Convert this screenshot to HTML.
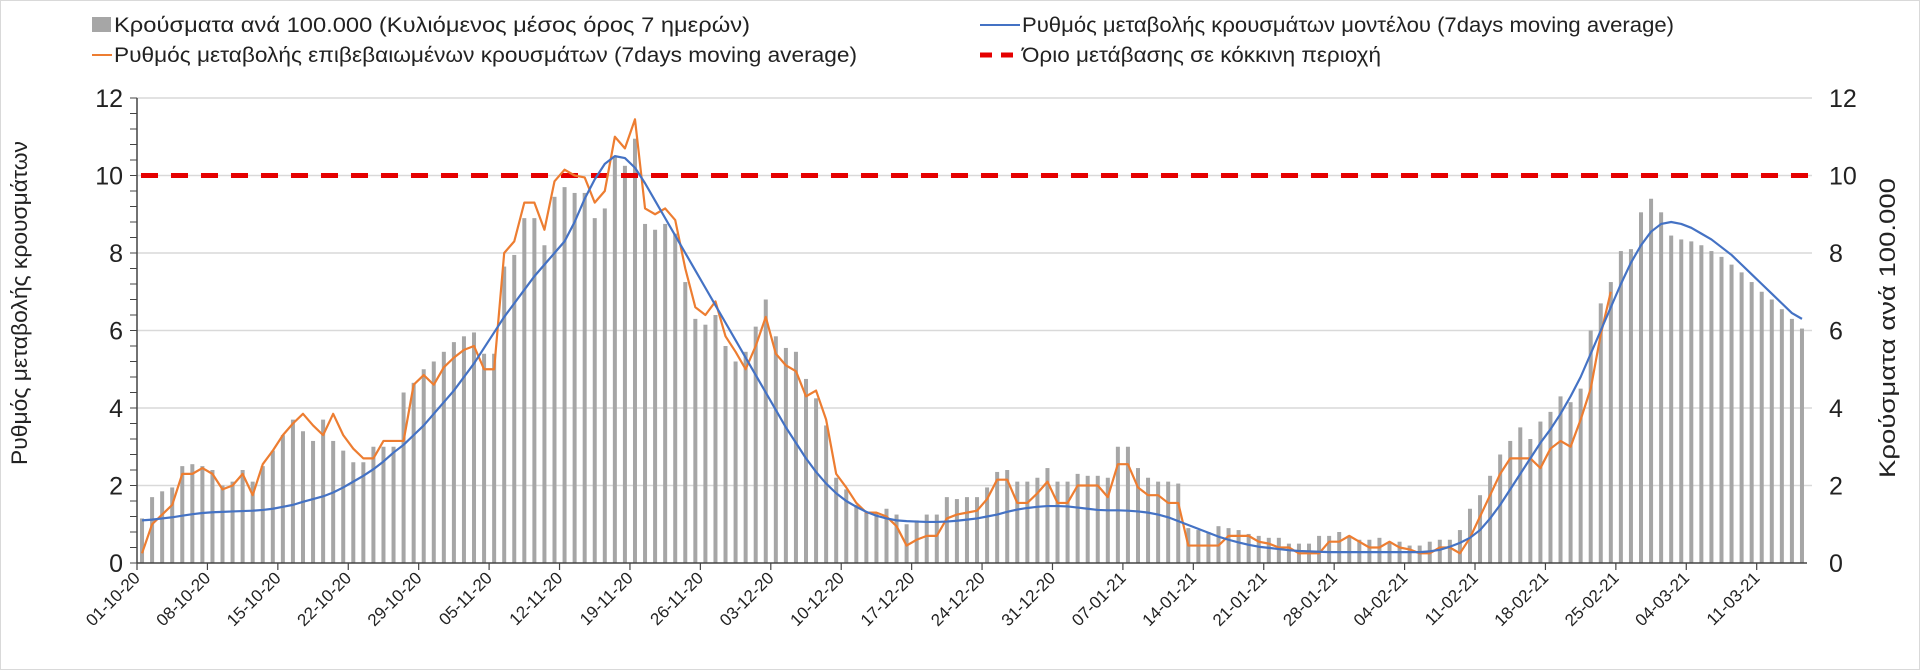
<!DOCTYPE html>
<html><head><meta charset="utf-8"><style>
html,body{margin:0;padding:0;background:#fff;}
svg{display:block;font-family:"Liberation Sans Narrow","Liberation Sans","Noto Sans CJK SC",sans-serif;}
</style></head><body>
<svg id="chart" width="1920" height="670" viewBox="0 0 1920 670" xmlns="http://www.w3.org/2000/svg">
<rect x="0.5" y="0.5" width="1919" height="669" fill="#fff" stroke="#d9d9d9"/>
<g id="legend">
 <g><rect x="92" y="17" width="19" height="15" fill="#a6a6a6"/><text x="114" y="32" font-size="21" fill="#222" textLength="636" lengthAdjust="spacingAndGlyphs">Κρούσματα ανά 100.000 (Κυλιόμενος μέσος όρος 7 ημερών)</text></g>
 <g><line x1="92" y1="55" x2="112" y2="55" stroke="#ed7d31" stroke-width="2"/><text x="114" y="62" font-size="21" fill="#222" textLength="743" lengthAdjust="spacingAndGlyphs">Ρυθμός μεταβολής επιβεβαιωμένων κρουσμάτων (7days moving average)</text></g>
 <g><line x1="980" y1="25" x2="1020" y2="25" stroke="#4472c4" stroke-width="2"/><text x="1022" y="32" font-size="21" fill="#222" textLength="652" lengthAdjust="spacingAndGlyphs">Ρυθμός μεταβολής κρουσμάτων μοντέλου (7days moving average)</text></g>
 <g><line x1="980" y1="55" x2="1020" y2="55" stroke="#e50000" stroke-width="5" stroke-dasharray="12,9"/><text x="1022" y="62" font-size="21" fill="#222" textLength="359" lengthAdjust="spacingAndGlyphs">Όριο μετάβασης σε κόκκινη περιοχή</text></g>
</g>
<g id="grid"></g>
<g id="bars"></g>
<g id="lines"></g>
<g id="axes"></g>
<text transform="translate(27,303) rotate(-90)" text-anchor="middle" font-size="22" fill="#222" font-family="Liberation Sans, sans-serif" textLength="324" lengthAdjust="spacingAndGlyphs">Ρυθμός μεταβολής κρουσμάτων</text>
<text transform="translate(1895,328) rotate(-90)" text-anchor="middle" font-size="22" fill="#222" font-family="Liberation Sans, sans-serif" textLength="300" lengthAdjust="spacingAndGlyphs">Κρούσματα ανά 100.000</text>
</svg>
<script>
const cases = [
1.15,1.7,1.85,1.95,2.5,2.55,2.5,
2.4,2.0,2.1,2.4,2.1,2.5,2.9,
3.3,3.7,3.4,3.15,3.7,3.15,2.9,
2.6,2.6,3.0,3.0,3.0,4.4,4.65,
5.0,5.2,5.45,5.7,5.85,5.95,5.4,
5.4,7.65,7.95,8.9,8.9,8.2,9.45,
9.7,9.55,9.55,8.9,9.15,10.5,10.25,
10.95,8.75,8.6,8.75,8.5,7.25,6.3,
6.15,6.4,5.6,5.2,5.45,6.1,6.8,
5.85,5.55,5.45,4.75,4.25,3.55,2.2,
1.9,1.5,1.3,1.3,1.4,1.25,1.0,
1.1,1.25,1.25,1.7,1.65,1.7,1.7,
1.95,2.35,2.4,2.1,2.1,2.2,2.45,
2.1,2.1,2.3,2.25,2.25,2.2,3.0,
3.0,2.45,2.2,2.1,2.1,2.05,0.9,
0.85,0.8,0.95,0.9,0.85,0.75,0.7,
0.65,0.65,0.5,0.5,0.5,0.7,0.7,
0.8,0.7,0.6,0.6,0.65,0.55,0.55,
0.45,0.45,0.55,0.6,0.6,0.85,1.4,
1.75,2.25,2.8,3.15,3.5,3.2,3.65,
3.9,4.3,4.15,4.5,6.0,6.7,7.25,
8.05,8.1,9.05,9.4,9.05,8.45,8.35,
8.3,8.2,8.05,7.9,7.7,7.5,7.25,
7.0,6.8,6.55,6.3,6.05];
const confirmedRate = [
0.25,1.0,1.25,1.5,2.3,2.3,2.45,
2.3,1.9,2.0,2.3,1.75,2.55,2.9,
3.3,3.6,3.85,3.55,3.3,3.85,3.3,
2.95,2.7,2.7,3.15,3.15,3.15,4.6,
4.85,4.6,5.05,5.3,5.5,5.6,5.0,
5.0,8.0,8.3,9.3,9.3,8.6,9.85,
10.15,10.0,9.95,9.3,9.6,11.0,10.7,
11.45,9.15,9.0,9.15,8.85,7.6,6.6,
6.4,6.75,5.85,5.45,5.0,5.6,6.35,
5.4,5.1,4.95,4.3,4.45,3.7,2.3,
1.95,1.55,1.3,1.3,1.2,0.95,0.45,
0.6,0.7,0.7,1.15,1.25,1.3,1.35,
1.65,2.15,2.15,1.55,1.55,1.8,2.1,
1.55,1.55,2.0,2.0,2.0,1.7,2.55,
2.55,1.95,1.75,1.75,1.55,1.55,0.45,
0.45,0.45,0.45,0.7,0.7,0.7,0.55,
0.5,0.4,0.4,0.25,0.25,0.25,0.55,
0.55,0.7,0.55,0.4,0.4,0.55,0.4,
0.35,0.25,0.25,0.4,0.4,0.25,0.65,
1.2,1.75,2.3,2.7,2.7,2.7,2.45,
2.95,3.15,3.0,3.7,4.5,5.9,7.0];
const modelRate = [
1.1,1.12,1.15,1.18,1.22,1.26,1.29,
1.31,1.32,1.33,1.34,1.35,1.37,1.4,
1.45,1.5,1.58,1.65,1.72,1.82,1.95,
2.1,2.25,2.42,2.62,2.85,3.05,3.3,
3.55,3.85,4.15,4.45,4.8,5.15,5.55,
5.95,6.35,6.7,7.05,7.4,7.7,8.0,
8.3,8.8,9.4,9.9,10.3,10.5,10.45,
10.2,9.8,9.35,8.9,8.45,8.0,7.55,
7.1,6.65,6.2,5.75,5.3,4.85,4.4,
3.95,3.5,3.1,2.7,2.35,2.05,1.8,
1.6,1.45,1.32,1.22,1.15,1.1,1.08,
1.07,1.06,1.06,1.07,1.09,1.12,1.15,
1.2,1.25,1.32,1.38,1.42,1.45,1.47,
1.47,1.46,1.43,1.4,1.37,1.36,1.36,
1.35,1.33,1.3,1.25,1.18,1.08,0.98,
0.88,0.78,0.68,0.6,0.53,0.47,0.42,
0.39,0.36,0.33,0.31,0.3,0.29,0.28,
0.28,0.28,0.28,0.28,0.28,0.28,0.28,
0.28,0.28,0.3,0.34,0.42,0.52,0.65,
0.85,1.15,1.5,1.9,2.3,2.7,3.1,
3.45,3.85,4.3,4.8,5.4,6.0,6.6,
7.2,7.75,8.2,8.55,8.75,8.8,8.75,
8.65,8.5,8.35,8.15,7.95,7.7,7.45,
7.2,6.95,6.7,6.45,6.3];
const threshold = [10];
const xTickLabels = ["01-10-20","08-10-20","15-10-20","22-10-20","29-10-20","05-11-20","12-11-20","19-11-20","26-11-20","03-12-20","10-12-20","17-12-20","24-12-20","31-12-20","07-01-21","14-01-21","21-01-21","28-01-21","04-02-21","11-02-21","18-02-21","25-02-21","04-03-21","11-03-21"];
const yTicks = [0,2,4,6,8,10,12];

const NS="http://www.w3.org/2000/svg";
const X0=137, X1=1807, Y0=563, Y12=98, N=cases.length;
const step=(X1-X0)/N;
const xc=i=>X0+(i+0.5)*step;
const xb=i=>X0+i*step;
const y=v=>Y0-(v/12)*(Y0-Y12);
function mk(tag,attrs,parent){const e=document.createElementNS(NS,tag);for(const k in attrs)e.setAttribute(k,attrs[k]);parent.appendChild(e);return e;}
const grid=document.getElementById('grid'),bars=document.getElementById('bars'),lines=document.getElementById('lines'),axes=document.getElementById('axes');
yTicks.forEach(t=>{
  if(t>0){const g=mk('line',{x1:X0,x2:1812,y1:y(t),y2:y(t),stroke:'#d9d9d9','stroke-width':1.5},grid);
  
  }
  const l=mk('text',{x:123,y:y(t)+9,'text-anchor':'end','font-size':25,fill:'#222'},axes);l.textContent=t;
  
  
  const r=mk('text',{x:1829,y:y(t)+9,'font-size':25,fill:'#222'},axes);r.textContent=t;
  
  
});
for(let v=0;v<=12.001;v+=0.4){mk('line',{x1:X0-7,x2:X0,y1:y(v),y2:y(v),stroke:'#444','stroke-width':1},axes);}
cases.forEach((v,i)=>{
  const b=mk('rect',{x:xc(i)-2,y:y(v),width:4,height:Y0-y(v),fill:'#a6a6a6'},bars);
  
  
});
const red=mk('line',{x1:X0+4,x2:1810,y1:y(threshold[0]),y2:y(threshold[0]),stroke:'#e50000','stroke-width':5,'stroke-dasharray':'17,13'},lines);


const po=mk('polyline',{points:confirmedRate.map((v,i)=>xc(i)+','+y(v)).join(' '),fill:'none',stroke:'#ed7d31','stroke-width':2.2,'stroke-linejoin':'round'},lines);


const pb=mk('polyline',{points:modelRate.map((v,i)=>xc(i)+','+y(v)).join(' '),fill:'none',stroke:'#4472c4','stroke-width':2.2,'stroke-linejoin':'round'},lines);


mk('line',{x1:X0,x2:X0,y1:Y12,y2:Y0,stroke:'#444','stroke-width':1.5},axes);
mk('line',{x1:X0,x2:X1,y1:Y0,y2:Y0,stroke:'#444','stroke-width':1.5},axes);
xTickLabels.forEach((s,k)=>{
  const x=xb(k*7);
  mk('line',{x1:x,x2:x,y1:Y0,y2:Y0+7,stroke:'#444','stroke-width':1.2},axes);
  const t=mk('text',{transform:`translate(${x+4},${Y0+16}) rotate(-45)`,'text-anchor':'end','font-size':17,fill:'#222'},axes);
  t.textContent=s;
  
  
});
</script>
</body></html>
